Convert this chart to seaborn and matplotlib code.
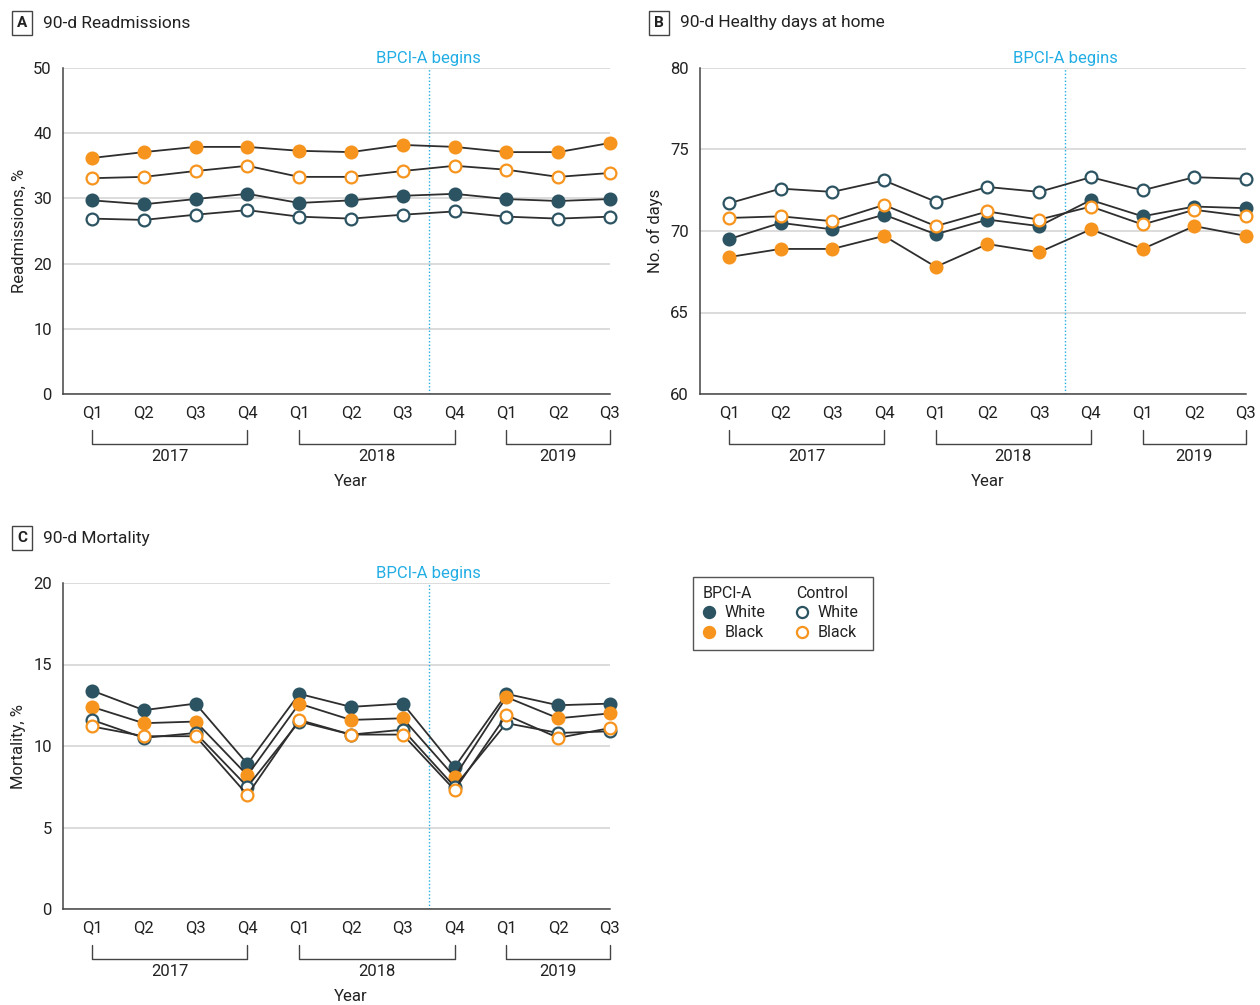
import matplotlib
matplotlib.use('Agg')
import matplotlib.pyplot as plt
from matplotlib import font_manager
from matplotlib.lines import Line2D
from matplotlib.patches import Rectangle
import numpy as np
import pandas as pd
import seaborn as sns

# x axis: quarters from 2017 Q1 to 2019 Q3
quarters = ['Q1', 'Q2', 'Q3', 'Q4', 'Q1', 'Q2', 'Q3', 'Q4', 'Q1', 'Q2', 'Q3']
years = ['2017', '2018', '2019']
year_first_q = [0, 4, 8]
year_last_q = [3, 7, 10]
bpci_start = 6.5  # between 2018 Q3 and 2018 Q4

# A: 90-d readmissions, %
readm_bpci_white = [29.7, 29.1, 29.9, 30.7, 29.3, 29.7, 30.4, 30.7, 29.9, 29.6, 29.9]
readm_bpci_black = [36.2, 37.1, 37.9, 37.9, 37.3, 37.1, 38.2, 37.9, 37.1, 37.1, 38.5]
readm_ctrl_white = [26.9, 26.7, 27.5, 28.2, 27.2, 26.9, 27.5, 28.0, 27.2, 26.9, 27.2]
readm_ctrl_black = [33.1, 33.3, 34.2, 35.0, 33.3, 33.3, 34.2, 35.0, 34.4, 33.3, 33.9]

# B: 90-d healthy days at home
hdah_bpci_white = [69.5, 70.5, 70.1, 71.0, 69.8, 70.7, 70.3, 71.9, 70.9, 71.5, 71.4]
hdah_bpci_black = [68.4, 68.9, 68.9, 69.7, 67.8, 69.2, 68.7, 70.1, 68.9, 70.3, 69.7]
hdah_ctrl_white = [71.7, 72.6, 72.4, 73.1, 71.8, 72.7, 72.4, 73.3, 72.5, 73.3, 73.2]
hdah_ctrl_black = [70.8, 70.9, 70.6, 71.6, 70.3, 71.2, 70.7, 71.5, 70.4, 71.3, 70.9]

# C: 90-d mortality, %
mort_bpci_white = [13.4, 12.2, 12.6, 8.9, 13.2, 12.4, 12.6, 8.7, 13.2, 12.5, 12.6]
mort_bpci_black = [12.4, 11.4, 11.5, 8.2, 12.6, 11.6, 11.7, 8.1, 13.0, 11.7, 12.0]
mort_ctrl_white = [11.6, 10.5, 10.8, 7.5, 11.5, 10.7, 11.0, 7.5, 11.4, 10.8, 10.9]
mort_ctrl_black = [11.2, 10.6, 10.6, 7.0, 11.6, 10.7, 10.7, 7.3, 11.9, 10.5, 11.1]

groups = ['BPCI-A White', 'BPCI-A Black', 'Control White', 'Control Black']

DARK = '#2b5361'
ORANGE = '#f7941d'
LINE = '#2e2e2e'
CYAN = '#22aee5'
TEXT = '#222222'
marker_style = {
    'BPCI-A White': (DARK, DARK),
    'BPCI-A Black': (ORANGE, ORANGE),
    'Control White': ('white', DARK),
    'Control Black': ('white', ORANGE),
}

sns.set_theme(style='white')
names = {f.name for f in font_manager.fontManager.ttflist}
base_font = 'Liberation Sans Narrow' if 'Liberation Sans Narrow' in names else 'Roboto'
plt.rcParams['font.family'] = [base_font, 'DejaVu Sans']


def make_frame(series):
    """把四條序列整理成長表"""
    rows = []
    for g, vals in zip(groups, series):
        for i, v in enumerate(vals):
            rows.append({'period': i, 'value': v, 'group': g})
    return pd.DataFrame(rows)


def draw_panel(ax, df, ylim, yticks, ylabel):
    for g in groups:
        fc, ec = marker_style[g]
        sub = df[df['group'] == g]
        sns.lineplot(data=sub, x='period', y='value', ax=ax, color=LINE, lw=1.3,
                     marker='o', markersize=8.5, markerfacecolor=fc,
                     markeredgecolor=ec, markeredgewidth=1.6, clip_on=False,
                     zorder=3, legend=False)

    ax.set_xlim(-0.56, len(quarters) - 1)
    ax.set_ylim(*ylim)
    ax.set_yticks(yticks)
    ax.set_xticks(range(len(quarters)))
    ax.set_xticklabels(quarters)
    ax.yaxis.grid(True, color='#d9d9d9', lw=1.3)
    ax.xaxis.grid(False)
    ax.set_axisbelow(True)
    for s in ['top', 'right']:
        ax.spines[s].set_visible(False)
    for s in ['left', 'bottom']:
        ax.spines[s].set_color('#444444')
        ax.spines[s].set_linewidth(1.1)
    ax.tick_params(axis='both', direction='out', length=5, width=1, color='#444444',
                   labelsize=12, labelcolor=TEXT, pad=3)
    ax.set_xlabel('')
    ax.set_ylabel(ylabel, fontsize=12, color=TEXT)
    ax.yaxis.set_label_coords(-0.067, 0.5)

    # BPCI-A start
    ax.axvline(bpci_start, color=CYAN, lw=1, ls=(0, (1, 1.5)), zorder=2)
    ax.text(bpci_start, 1.03, 'BPCI-A begins', transform=ax.get_xaxis_transform(),
            ha='center', va='center', color=CYAN, fontsize=12)

    # year brackets
    tr = ax.get_xaxis_transform()
    for yr, a, b in zip(years, year_first_q, year_last_q):
        ax.plot([a, a, b, b], [-0.11, -0.153, -0.153, -0.11], transform=tr,
                color='#444444', lw=1, clip_on=False)
        ax.text((a + b) / 2, -0.192, yr, transform=tr, ha='center', va='center',
                fontsize=12, color=TEXT)
    ax.text(0.5 * (len(quarters) - 1), -0.268, 'Year', transform=tr,
            ha='center', va='center', fontsize=12, color=TEXT)


fig = plt.figure(figsize=(12.6, 10.05), dpi=100)
W, H = 1260, 1005


def px_axes(x0, y0, x1, y1):
    return fig.add_axes([x0 / W, 1 - y1 / H, (x1 - x0) / W, (y1 - y0) / H])


ax_a = px_axes(63, 68, 610, 394)
ax_b = px_axes(700, 68, 1246, 394)
ax_c = px_axes(63, 583, 610, 909)

draw_panel(ax_a, make_frame([readm_bpci_white, readm_bpci_black, readm_ctrl_white, readm_ctrl_black]),
           (0, 50), [0, 10, 20, 30, 40, 50], 'Readmissions, %')
draw_panel(ax_b, make_frame([hdah_bpci_white, hdah_bpci_black, hdah_ctrl_white, hdah_ctrl_black]),
           (60, 80), [60, 65, 70, 75, 80], 'No. of days')
draw_panel(ax_c, make_frame([mort_bpci_white, mort_bpci_black, mort_ctrl_white, mort_ctrl_black]),
           (0, 20), [0, 5, 10, 15, 20], 'Mortality, %')

# panel titles
for letter, title, x, y in [('A', '90-d Readmissions', 22, 23),
                            ('B', '90-d Healthy days at home', 659, 23),
                            ('C', '90-d Mortality', 22, 538)]:
    fig.text(x / W, 1 - y / H, letter, ha='center', va='center', fontsize=11,
             fontweight='bold', color=TEXT,
             bbox=dict(boxstyle='square,pad=0.35', fc='white', ec='#444444', lw=1))
    fig.text((x + 21) / W, 1 - y / H, title, ha='left', va='center', fontsize=12.5,
             color=TEXT)

# legend
def handle(g):
    fc, ec = marker_style[g]
    return Line2D([], [], ls='none', marker='o', markersize=8, markerfacecolor=fc,
                  markeredgecolor=ec, markeredgewidth=1.6)


leg_kw = dict(loc='upper left', frameon=False, alignment='left', fontsize=11.5,
              title_fontsize=11.5, handlelength=0.8, handletextpad=0.55,
              borderpad=0, labelspacing=0.33, borderaxespad=0)
leg1 = fig.legend([handle('BPCI-A White'), handle('BPCI-A Black')], ['White', 'Black'],
                  title='BPCI-A', bbox_to_anchor=(703 / W, 1 - 586 / H), **leg_kw)
leg2 = fig.legend([handle('Control White'), handle('Control Black')], ['White', 'Black'],
                  title='Control', bbox_to_anchor=(796 / W, 1 - 586 / H), **leg_kw)
for leg in (leg1, leg2):
    leg.get_title().set_color(TEXT)
    leg._legend_box.sep = 3
    for t in leg.get_texts():
        t.set_color(TEXT)
fig.add_artist(Rectangle((693 / W, 1 - 650 / H), 180 / W, 73 / H, transform=fig.transFigure,
                         fill=False, ec='#555555', lw=1))

fig.savefig('out.png', dpi=100)
